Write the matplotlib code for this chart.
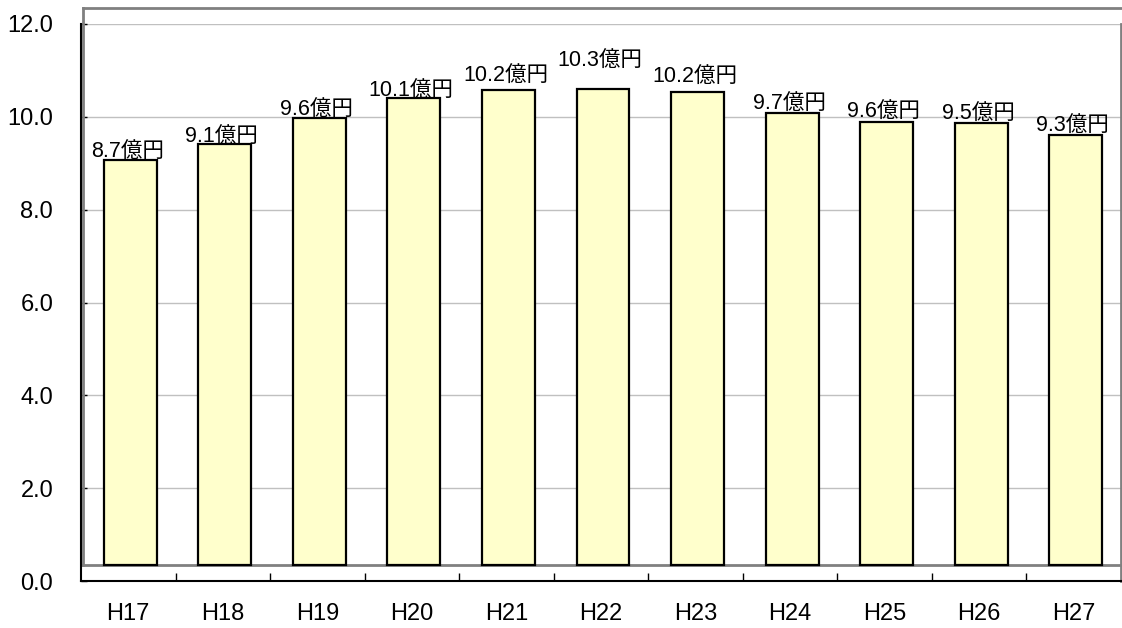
import numpy as np
import matplotlib
matplotlib.use('Agg')
import matplotlib.pyplot as plt
import matplotlib.transforms as mtransforms

years = ['H17', 'H18', 'H19', 'H20', 'H21', 'H22', 'H23', 'H24', 'H25', 'H26', 'H27']
values = [8.73, 9.07, 9.63, 10.06, 10.24, 10.26, 10.19, 9.74, 9.55, 9.53, 9.27]
labels = ['8.7', '9.1', '9.6', '10.1', '10.2', '10.3', '10.2', '9.7', '9.6', '9.5', '9.3']
label_lift = [7, 7, 8, 7, 13, 27, 15, 8, 9, 8, 8]  # px above bar top

plt.rcParams['font.family'] = ['Liberation Sans', 'Noto Sans CJK JP']

fig = plt.figure(figsize=(11.22, 6.28), dpi=100)
ax = fig.add_axes([81 / 1122, 47 / 628, 1040 / 1122, 557 / 628])

# excel style pseudo 3d: back wall and bars shifted up/right
depth = mtransforms.ScaledTranslation(2 / 100, 16 / 100, fig.dpi_scale_trans)
back = ax.transData + depth

x = np.arange(len(years))
ax.bar(x, values, width=0.56, color='#ffffcc', edgecolor='black',
       linewidth=1.6, transform=back, zorder=3)

for i in range(len(years)):
    ax.annotate(labels[i] + '億円', (x[i], values[i]), xycoords=back,
                xytext=(-3, label_lift[i]), textcoords='offset pixels',
                ha='center', va='center', fontsize=15.5, zorder=4)

# back wall frame + floor
wall = dict(color='#808080', lw=2, transform=back, clip_on=False, zorder=2)
ax.plot([-0.5, 10.5], [0, 0], **wall)
ax.plot([-0.5, -0.5], [0, 12], **wall)
ax.plot([-0.5, 10.5], [12, 12], **wall)

ax.set_xlim(-0.5, 10.5)
ax.set_ylim(0, 12)
ax.set_yticks(np.arange(0, 13, 2))
ax.set_yticklabels(['%.1f' % v for v in np.arange(0, 13, 2)])
ax.set_xticks(x)
ax.set_xticklabels(years)
ax.set_xticks(np.arange(0.5, 10, 1), minor=True)

ax.yaxis.grid(True, color='#c0c0c0', lw=1)
ax.set_axisbelow(True)
ax.tick_params(axis='y', direction='in', length=4, width=1, pad=20, labelsize=17)
ax.tick_params(axis='x', which='major', length=0, pad=16, labelsize=17)
ax.tick_params(axis='x', which='minor', direction='in', length=6, width=1)

ax.spines['top'].set_visible(False)
ax.spines['right'].set_color('#808080')
ax.spines['right'].set_linewidth(2)
ax.spines['left'].set_linewidth(1.5)
ax.spines['bottom'].set_linewidth(1.5)

fig.savefig('out.png', dpi=100)
